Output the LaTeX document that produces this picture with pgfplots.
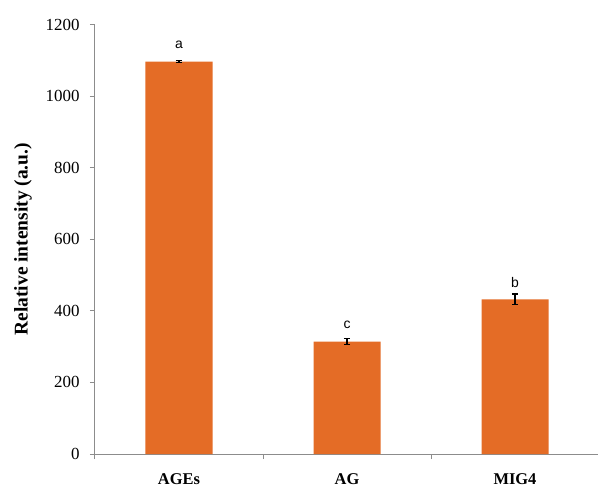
\documentclass[border=0pt]{standalone}
\usepackage{pgfplots}
\pgfplotsset{compat=1.18}
\usepackage{fontspec}
\setmainfont{Liberation Serif}
\newfontfamily\lettersf{Liberation Sans}
\definecolor{barorange}{RGB}{228,108,38}
\definecolor{axisgray}{RGB}{140,140,140}

\pgfplotstableread{
x   val   err  letter
0   1096  3    a
1   314   9    c
2   432   15   b
}\intensity

\begin{document}
\begin{tikzpicture}
\useasboundingbox (-95bp,-33bp) rectangle (503bp,454bp);
\begin{axis}[
  at={(0,0)}, anchor=south west,
  scale only axis, width=504bp, height=429.5bp,
  xmin=-0.5, xmax=2.5, ymin=0, ymax=1200,
  axis x line*=bottom, axis y line*=left,
  axis line style={axisgray, line width=1bp, -},
  ytick={0,200,...,1200},
  xtick={0,1,2}, xticklabels={AGEs,AG,MIG4},
  minor xtick={-0.5,0.5,1.5,2.5},
  tick align=outside,
  major tick length=5bp, minor tick length=5bp,
  every tick/.style={axisgray, line width=1bp},
  major x tick style={draw=none},
  /pgf/number format/assume math mode=true,
  /pgf/number format/1000 sep={},
  scaled y ticks=false,
  yticklabel style={font=\fontsize{17}{17}\selectfont, anchor=east, xshift=-7bp},
  xticklabel style={font=\fontsize{16.5}{16.5}\selectfont\bfseries, anchor=base, yshift=-25bp},
  ylabel={Relative intensity (a.u.)},
  every axis y label/.style={at={(axis description cs:0,0.5)}, rotate=90, anchor=center, yshift=72bp, font=\fontsize{19.5}{19.5}\selectfont\bfseries},
  clip=false,
]
\addplot[ybar, bar width=67bp, fill=barorange, draw=none,
  error bars/.cd, y dir=both, y explicit,
  error bar style={black, line width=1.2bp},
  error mark options={black, rotate=90, mark size=3.2bp, line width=1.2bp}]
  table[x=x, y=val, y error=err] {\intensity};
\addplot[ybar, bar width=67bp, draw=none, fill=none,
  nodes near coords, point meta=explicit symbolic,
  every node near coord/.style={font=\lettersf\fontsize{14}{14}\selectfont, anchor=center, yshift=16.5bp, black}]
  table[x=x, y=val, meta=letter] {\intensity};
\end{axis}
\end{tikzpicture}
\end{document}
